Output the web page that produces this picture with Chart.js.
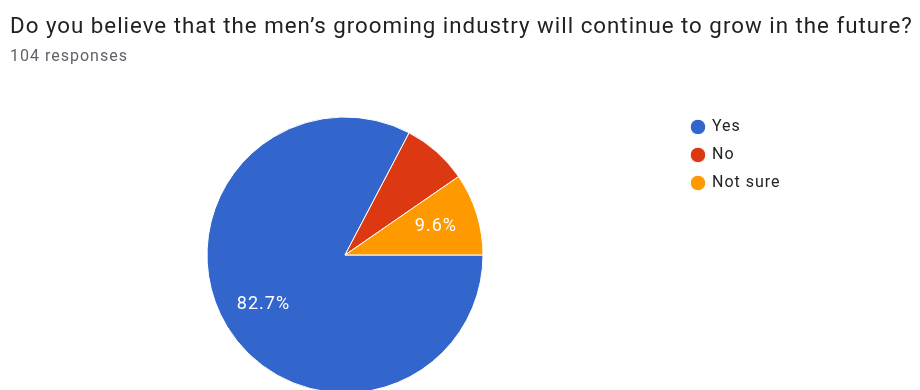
<!DOCTYPE html>
<html>
<head>
<meta charset="utf-8">
<script src="https://cdn.jsdelivr.net/npm/chart.js@4/dist/chart.umd.min.js"></script>
<style>
  html, body { margin: 0; padding: 0; background: #fff; overflow: hidden; }
  #wrap { position: relative; width: 920px; height: 410px; }
</style>
</head>
<body>
<div id="wrap"><canvas id="pie"></canvas></div>
<script>
const questionText = 'Do you believe that the men\u2019s grooming industry will continue to grow in the future?';
const responsesText = '104 responses';
const answers = ['Yes', 'No', 'Not sure'];
const responseCounts = [86, 8, 10];
const sliceColors = ['#3366CC', '#DC3912', '#FF9900'];

const totalResponses = responseCounts.reduce((a, b) => a + b, 0);

// slightly wider text everywhere
const textSpacing = {
    id: 'textSpacing',
    beforeLayout(chart) { chart.ctx.letterSpacing = '1px'; },
    beforeDraw(chart) { chart.ctx.letterSpacing = '1px'; }
};

// legend column gets a fixed width so the pie sits left of it
const legendWidth = {
    id: 'legendWidth',
    beforeLayout(chart) {
        const legend = chart.legend;
        if (!legend || legend._fixedWidth) return;
        const fit = legend.fit;
        legend.fit = function () {
            fit.call(this);
            this.width = 240;
        };
        legend._fixedWidth = true;
    }
};

// percentage text inside the bigger slices
const sliceLabels = {
    id: 'sliceLabels',
    afterDatasetsDraw(chart) {
        const ctx = chart.ctx;
        const meta = chart.getDatasetMeta(0);
        ctx.save();
        ctx.fillStyle = '#ffffff';
        ctx.font = '18px Roboto';
        ctx.textAlign = 'center';
        ctx.textBaseline = 'middle';
        meta.data.forEach((arc, i) => {
            const pct = responseCounts[i] / totalResponses * 100;
            if (pct < 8) return;
            const mid = (arc.startAngle + arc.endAngle) / 2;
            const r = arc.outerRadius * 0.69;
            ctx.fillText(pct.toFixed(1) + '%', arc.x + Math.cos(mid) * r, arc.y + Math.sin(mid) * r);
        });
        ctx.restore();
    }
};

const ctx = document.getElementById('pie').getContext('2d');
const pie = new Chart(ctx, {
    type: 'pie',
    data: {
        labels: answers,
        datasets: [{
            data: responseCounts,
            backgroundColor: sliceColors,
            borderColor: '#ffffff',
            borderWidth: 1,
            radius: 138
        }]
    },
    options: {
        responsive: true,
        maintainAspectRatio: false,
        animation: false,
        rotation: 90,
        layout: {
            padding: { left: 10, right: 0, bottom: 7, top: 0 }
        },
        plugins: {
            title: {
                display: true,
                text: questionText,
                align: 'start',
                color: '#202124',
                font: { family: 'Roboto', size: 22.3, weight: 'normal', lineHeight: 1.2 },
                padding: { top: 14, bottom: 0 }
            },
            subtitle: {
                display: true,
                text: responsesText,
                align: 'start',
                color: '#5f6368',
                font: { family: 'Roboto', size: 16, lineHeight: 1.2 },
                padding: { top: 7, bottom: 40 }
            },
            legend: {
                position: 'right',
                align: 'start',
                fullSize: false,
                labels: {
                    usePointStyle: true,
                    pointStyle: 'circle',
                    boxWidth: 12,
                    boxHeight: 11,
                    padding: 12,
                    color: '#222222',
                    font: { family: 'Roboto', size: 16 }
                }
            },
            tooltip: { enabled: false }
        }
    },
    plugins: [textSpacing, legendWidth, sliceLabels]
});
</script>
</body>
</html>
